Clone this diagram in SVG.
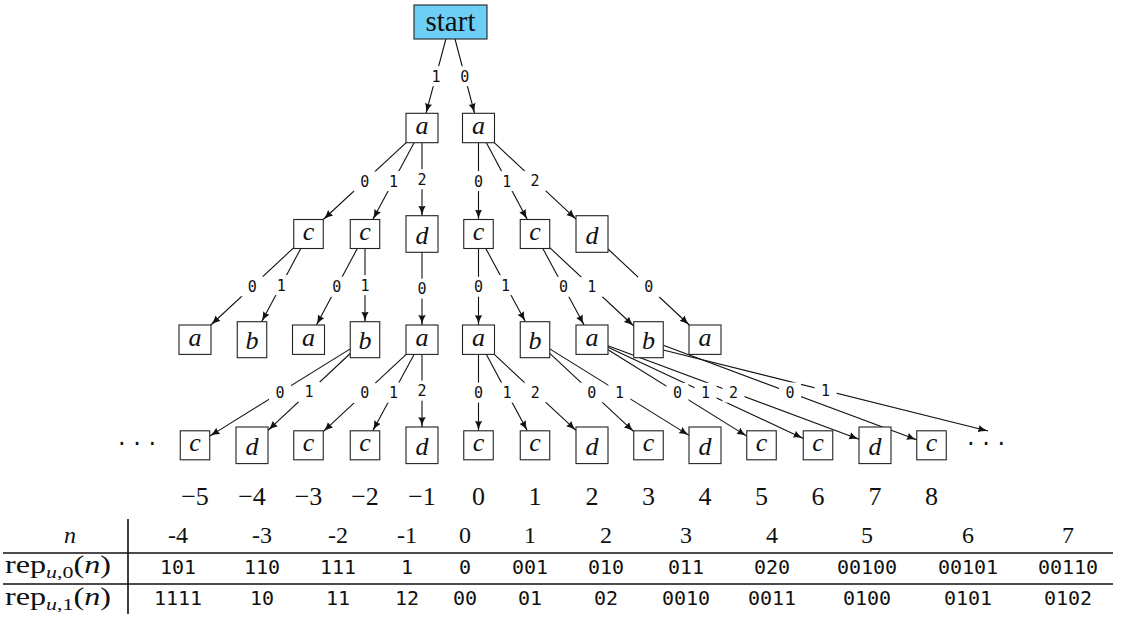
<svg xmlns="http://www.w3.org/2000/svg" width="1123" height="621" viewBox="0 0 1123 621">
<style>
.box{fill:#fff;stroke:#222;stroke-width:1.1}
.start{fill:#6ecff6;stroke:#222;stroke-width:1.1}
.it{font-family:"Liberation Serif",serif;font-style:italic;font-size:26px;text-anchor:middle;fill:#111}
.rm{font-family:"Liberation Serif",serif;font-size:26px;text-anchor:middle;fill:#111}
.e{stroke:#111;stroke-width:1.1;fill:none;marker-end:url(#ah)}
.lb{fill:#fff}
.lt{font-family:"DejaVu Sans Mono",monospace;font-size:15px;text-anchor:middle;fill:#111}
.tser{font-family:"Liberation Serif",serif;font-size:24px;text-anchor:middle;fill:#111}
.trep{font-family:"Liberation Serif",serif;font-size:25px;text-anchor:start;fill:#111}
.tmono{font-family:"DejaVu Sans Mono",monospace;font-size:20px;text-anchor:middle;fill:#111}
.dots{font-family:"DejaVu Sans",sans-serif;font-size:24px;text-anchor:middle;fill:#111}
.rule{stroke:#111;stroke-width:1.6}
</style>
<defs>
<marker id="ah" markerUnits="userSpaceOnUse" markerWidth="11" markerHeight="8" refX="10" refY="4" orient="auto">
<path d="M0,0.3 Q4,3 10,4 Q4,5 0,7.7 Q1.5,4 0,0.3 Z" fill="#111"/>
</marker>
</defs>

<g id="connectors">
<line class="e" x1="445.9" y1="39" x2="426" y2="113.3"/>
<line class="e" x1="455" y1="39" x2="474.6" y2="113.3"/>
<line class="e" x1="406.2" y1="142.7" x2="323.25" y2="219.5"/>
<line class="e" x1="414.1" y1="142.7" x2="372.8" y2="219.5"/>
<line class="e" x1="422" y1="142.7" x2="422" y2="215.7"/>
<line class="e" x1="478.5" y1="142.7" x2="478.5" y2="219.5"/>
<line class="e" x1="486.4" y1="142.7" x2="527.3" y2="219.5"/>
<line class="e" x1="494.3" y1="142.7" x2="576" y2="219.1"/>
<line class="e" x1="293.75" y1="247.7" x2="210.8" y2="325"/>
<line class="e" x1="300.8" y1="248.5" x2="261.6" y2="321.7"/>
<line class="e" x1="357.3" y1="248.5" x2="316.4" y2="325"/>
<line class="e" x1="365" y1="248.5" x2="365" y2="321.7"/>
<line class="e" x1="422" y1="252.3" x2="422" y2="325"/>
<line class="e" x1="478.5" y1="248.5" x2="478.5" y2="325"/>
<line class="e" x1="485.8" y1="248.5" x2="525.4" y2="321.7"/>
<line class="e" x1="542.8" y1="248.5" x2="584.1" y2="325"/>
<line class="e" x1="549.75" y1="247.7" x2="633.75" y2="326"/>
<line class="e" x1="608" y1="249" x2="689.3" y2="325"/>
<line class="e" x1="350.25" y1="348.9" x2="209.75" y2="436.1"/>
<line class="e" x1="350.25" y1="353.5" x2="268" y2="430.3"/>
<line class="e" x1="406.2" y1="354.4" x2="323.25" y2="431.6"/>
<line class="e" x1="414.1" y1="354.4" x2="372.8" y2="430.8"/>
<line class="e" x1="422" y1="354.4" x2="422" y2="427"/>
<line class="e" x1="478.5" y1="354.4" x2="478.5" y2="430.8"/>
<line class="e" x1="486.4" y1="354.4" x2="527.3" y2="430.8"/>
<line class="e" x1="494.3" y1="354.4" x2="576" y2="430.4"/>
<line class="e" x1="549.75" y1="353.4" x2="633.75" y2="431.6"/>
<line class="e" x1="549.75" y1="348.9" x2="689" y2="435.4"/>
<line class="e" x1="608" y1="349.7" x2="746.75" y2="436.1"/>
<line class="e" x1="608" y1="347.2" x2="803.25" y2="438.4"/>
<line class="e" x1="608" y1="345.7" x2="859" y2="439.3"/>
<line class="e" x1="663.25" y1="345.2" x2="916.75" y2="439.8"/>
<line class="e" x1="663.25" y1="350" x2="988" y2="431"/>
<g id="edge-labels">
<rect class="lb" x="425" y="66.2" width="22" height="20"/><text class="lt" x="436" y="81.6">1</text>
<rect class="lb" x="453.8" y="66.2" width="22" height="20"/><text class="lt" x="464.8" y="81.6">0</text>
<rect class="lb" x="353.7" y="171.4" width="22" height="20"/><text class="lt" x="364.7" y="186.8">0</text>
<rect class="lb" x="382.4" y="171.1" width="22" height="20"/><text class="lt" x="393.4" y="186.5">1</text>
<rect class="lb" x="411" y="169.2" width="22" height="20"/><text class="lt" x="422" y="184.6">2</text>
<rect class="lb" x="467.5" y="171.1" width="22" height="20"/><text class="lt" x="478.5" y="186.5">0</text>
<rect class="lb" x="495.8" y="171.1" width="22" height="20"/><text class="lt" x="506.8" y="186.5">1</text>
<rect class="lb" x="524.1" y="170.9" width="22" height="20"/><text class="lt" x="535.1" y="186.3">2</text>
<rect class="lb" x="241.3" y="276.4" width="22" height="20"/><text class="lt" x="252.3" y="291.8">0</text>
<rect class="lb" x="270.2" y="275.1" width="22" height="20"/><text class="lt" x="281.2" y="290.5">1</text>
<rect class="lb" x="325.8" y="276.8" width="22" height="20"/><text class="lt" x="336.8" y="292.2">0</text>
<rect class="lb" x="354" y="275.1" width="22" height="20"/><text class="lt" x="365" y="290.5">1</text>
<rect class="lb" x="411" y="278.7" width="22" height="20"/><text class="lt" x="422" y="294.1">0</text>
<rect class="lb" x="467.5" y="276.8" width="22" height="20"/><text class="lt" x="478.5" y="292.2">0</text>
<rect class="lb" x="494.6" y="275.1" width="22" height="20"/><text class="lt" x="505.6" y="290.5">1</text>
<rect class="lb" x="552.5" y="276.8" width="22" height="20"/><text class="lt" x="563.5" y="292.2">0</text>
<rect class="lb" x="580.75" y="276.9" width="22" height="20"/><text class="lt" x="591.75" y="292.3">1</text>
<rect class="lb" x="637.7" y="277" width="22" height="20"/><text class="lt" x="648.7" y="292.4">0</text>
<rect class="lb" x="269" y="382.5" width="22" height="20"/><text class="lt" x="280" y="397.9">0</text>
<rect class="lb" x="298.1" y="381.9" width="22" height="20"/><text class="lt" x="309.1" y="397.3">1</text>
<rect class="lb" x="353.7" y="383" width="22" height="20"/><text class="lt" x="364.7" y="398.4">0</text>
<rect class="lb" x="382.5" y="382.6" width="22" height="20"/><text class="lt" x="393.5" y="398">1</text>
<rect class="lb" x="411" y="380.7" width="22" height="20"/><text class="lt" x="422" y="396.1">2</text>
<rect class="lb" x="467.5" y="382.6" width="22" height="20"/><text class="lt" x="478.5" y="398">0</text>
<rect class="lb" x="495.9" y="382.6" width="22" height="20"/><text class="lt" x="506.9" y="398">1</text>
<rect class="lb" x="524.2" y="382.4" width="22" height="20"/><text class="lt" x="535.2" y="397.8">2</text>
<rect class="lb" x="580.75" y="382.5" width="22" height="20"/><text class="lt" x="591.75" y="397.9">0</text>
<rect class="lb" x="608.4" y="382.2" width="22" height="20"/><text class="lt" x="619.4" y="397.6">1</text>
<rect class="lb" x="666.4" y="382.9" width="22" height="20"/><text class="lt" x="677.4" y="398.3">0</text>
<rect class="lb" x="694.6" y="382.8" width="22" height="20"/><text class="lt" x="705.6" y="398.2">1</text>
<rect class="lb" x="722.5" y="382.5" width="22" height="20"/><text class="lt" x="733.5" y="397.9">2</text>
<rect class="lb" x="779" y="382.5" width="22" height="20"/><text class="lt" x="790" y="397.9">0</text>
<rect class="lb" x="814.6" y="380.5" width="22" height="20"/><text class="lt" x="825.6" y="395.9">1</text>
</g>
</g>

<g id="n-start"><rect class="start" x="414" y="5" width="73" height="34"/><text class="rm" x="450.5" y="30.5" style="font-size:29px">start</text></g>

<g id="n1-a0"><rect class="box" x="406" y="113.3" width="32" height="29.4"/><text class="it" x="422" y="134">a</text></g>
<g id="n1-a1"><rect class="box" x="462.5" y="113.3" width="32" height="29.4"/><text class="it" x="478.5" y="134">a</text></g>

<g id="n2-c0"><rect class="box" x="293.75" y="219.5" width="29.5" height="29"/><text class="it" x="308.5" y="240">c</text></g>
<g id="n2-c1"><rect class="box" x="350.25" y="219.5" width="29.5" height="29"/><text class="it" x="365" y="240">c</text></g>
<g id="n2-d0"><rect class="box" x="406" y="215.7" width="32" height="36.6"/><text class="it" x="422" y="243.6">d</text></g>
<g id="n2-c2"><rect class="box" x="463.75" y="219.5" width="29.5" height="29"/><text class="it" x="478.5" y="240">c</text></g>
<g id="n2-c3"><rect class="box" x="520.25" y="219.5" width="29.5" height="29"/><text class="it" x="535" y="240">c</text></g>
<g id="n2-d1"><rect class="box" x="576" y="215.7" width="32" height="36.6"/><text class="it" x="592" y="243.6">d</text></g>

<g id="n3-a0"><rect class="box" x="179" y="325" width="32" height="29.4"/><text class="it" x="195" y="345.7">a</text></g>
<g id="n3-b0"><rect class="box" x="237.25" y="321.7" width="29.5" height="36"/><text class="it" x="252" y="349.2">b</text></g>
<g id="n3-a1"><rect class="box" x="292.5" y="325" width="32" height="29.4"/><text class="it" x="308.5" y="345.7">a</text></g>
<g id="n3-b1"><rect class="box" x="350.25" y="321.7" width="29.5" height="36"/><text class="it" x="365" y="349.2">b</text></g>
<g id="n3-a2"><rect class="box" x="406" y="325" width="32" height="29.4"/><text class="it" x="422" y="345.7">a</text></g>
<g id="n3-a3"><rect class="box" x="462.5" y="325" width="32" height="29.4"/><text class="it" x="478.5" y="345.7">a</text></g>
<g id="n3-b2"><rect class="box" x="520.25" y="321.7" width="29.5" height="36"/><text class="it" x="535" y="349.2">b</text></g>
<g id="n3-a4"><rect class="box" x="576" y="325" width="32" height="29.4"/><text class="it" x="592" y="345.7">a</text></g>
<g id="n3-b3"><rect class="box" x="633.75" y="321.7" width="29.5" height="36"/><text class="it" x="648.5" y="349.2">b</text></g>
<g id="n3-a5"><rect class="box" x="689" y="325" width="32" height="29.4"/><text class="it" x="705" y="345.7">a</text></g>

<g id="n4-dots-left"><text class="dots" x="137" y="452">· · ·</text></g>
<g id="n4-c0"><rect class="box" x="180.25" y="430.8" width="29.5" height="29"/><text class="it" x="195" y="451.3">c</text></g>
<g id="n4-d0"><rect class="box" x="236" y="427" width="32" height="36.6"/><text class="it" x="252" y="454.9">d</text></g>
<g id="n4-c1"><rect class="box" x="293.75" y="430.8" width="29.5" height="29"/><text class="it" x="308.5" y="451.3">c</text></g>
<g id="n4-c2"><rect class="box" x="350.25" y="430.8" width="29.5" height="29"/><text class="it" x="365" y="451.3">c</text></g>
<g id="n4-d1"><rect class="box" x="406" y="427" width="32" height="36.6"/><text class="it" x="422" y="454.9">d</text></g>
<g id="n4-c3"><rect class="box" x="463.75" y="430.8" width="29.5" height="29"/><text class="it" x="478.5" y="451.3">c</text></g>
<g id="n4-c4"><rect class="box" x="520.25" y="430.8" width="29.5" height="29"/><text class="it" x="535" y="451.3">c</text></g>
<g id="n4-d2"><rect class="box" x="576" y="427" width="32" height="36.6"/><text class="it" x="592" y="454.9">d</text></g>
<g id="n4-c5"><rect class="box" x="633.75" y="430.8" width="29.5" height="29"/><text class="it" x="648.5" y="451.3">c</text></g>
<g id="n4-d3"><rect class="box" x="689" y="427" width="32" height="36.6"/><text class="it" x="705" y="454.9">d</text></g>
<g id="n4-c6"><rect class="box" x="746.75" y="430.8" width="29.5" height="29"/><text class="it" x="761.5" y="451.3">c</text></g>
<g id="n4-c7"><rect class="box" x="803.25" y="430.8" width="29.5" height="29"/><text class="it" x="818" y="451.3">c</text></g>
<g id="n4-d4"><rect class="box" x="859" y="427" width="32" height="36.6"/><text class="it" x="875" y="454.9">d</text></g>
<g id="n4-c8"><rect class="box" x="916.75" y="430.8" width="29.5" height="29"/><text class="it" x="931.5" y="451.3">c</text></g>
<g id="n4-dots-right"><text class="dots" x="986" y="452">· · ·</text></g>

<g id="index-row">
<text class="rm" x="195" y="505">−5</text>
<text class="rm" x="252" y="505">−4</text>
<text class="rm" x="308.5" y="505">−3</text>
<text class="rm" x="365" y="505">−2</text>
<text class="rm" x="422" y="505">−1</text>
<text class="rm" x="478.5" y="505">0</text>
<text class="rm" x="535" y="505">1</text>
<text class="rm" x="592" y="505">2</text>
<text class="rm" x="648.5" y="505">3</text>
<text class="rm" x="705" y="505">4</text>
<text class="rm" x="761.5" y="505">5</text>
<text class="rm" x="818" y="505">6</text>
<text class="rm" x="875" y="505">7</text>
<text class="rm" x="931.5" y="505">8</text>
</g>

<g id="table">
<line class="rule" x1="3" y1="553" x2="1113" y2="553"/>
<line class="rule" x1="3" y1="584" x2="1113" y2="584"/>
<line class="rule" x1="128" y1="519" x2="128" y2="614"/>
<text class="tser" x="70" y="543" style="font-style:italic">n</text>
<text class="trep" x="5" y="573" textLength="106" lengthAdjust="spacingAndGlyphs">rep<tspan dy="5" style="font-size:17px"><tspan style="font-style:italic">u</tspan>,0</tspan><tspan dy="-5">(</tspan><tspan style="font-style:italic">n</tspan>)</text>
<text class="trep" x="5" y="605" textLength="106" lengthAdjust="spacingAndGlyphs">rep<tspan dy="5" style="font-size:17px"><tspan style="font-style:italic">u</tspan>,1</tspan><tspan dy="-5">(</tspan><tspan style="font-style:italic">n</tspan>)</text>
<text class="tser" x="178" y="543">-4</text>
<text class="tser" x="262" y="543">-3</text>
<text class="tser" x="338" y="543">-2</text>
<text class="tser" x="407" y="543">-1</text>
<text class="tser" x="465" y="543">0</text>
<text class="tser" x="530" y="543">1</text>
<text class="tser" x="606" y="543">2</text>
<text class="tser" x="686" y="543">3</text>
<text class="tser" x="772" y="543">4</text>
<text class="tser" x="867" y="543">5</text>
<text class="tser" x="968" y="543">6</text>
<text class="tser" x="1068" y="543">7</text>
<text class="tmono" x="178" y="574">101</text>
<text class="tmono" x="262" y="574">110</text>
<text class="tmono" x="338" y="574">111</text>
<text class="tmono" x="407" y="574">1</text>
<text class="tmono" x="465" y="574">0</text>
<text class="tmono" x="530" y="574">001</text>
<text class="tmono" x="606" y="574">010</text>
<text class="tmono" x="686" y="574">011</text>
<text class="tmono" x="772" y="574">020</text>
<text class="tmono" x="867" y="574">00100</text>
<text class="tmono" x="968" y="574">00101</text>
<text class="tmono" x="1068" y="574">00110</text>
<text class="tmono" x="178" y="605">1111</text>
<text class="tmono" x="262" y="605">10</text>
<text class="tmono" x="338" y="605">11</text>
<text class="tmono" x="407" y="605">12</text>
<text class="tmono" x="465" y="605">00</text>
<text class="tmono" x="530" y="605">01</text>
<text class="tmono" x="606" y="605">02</text>
<text class="tmono" x="686" y="605">0010</text>
<text class="tmono" x="772" y="605">0011</text>
<text class="tmono" x="867" y="605">0100</text>
<text class="tmono" x="968" y="605">0101</text>
<text class="tmono" x="1068" y="605">0102</text>
</g>
</svg>
